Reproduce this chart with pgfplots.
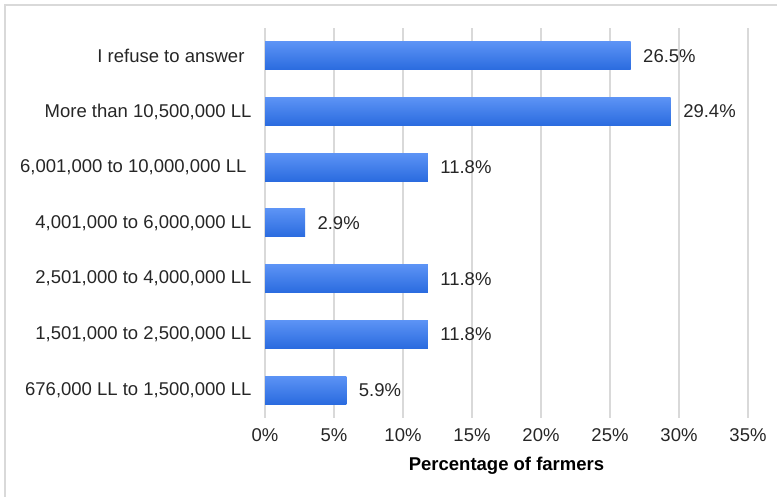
\documentclass[border=0pt]{standalone}
\usepackage{fontspec}
\setmainfont{Liberation Sans}
\usepackage{pgfplots}
\pgfplotsset{compat=1.18}

\definecolor{gridgray}{HTML}{D9D9D9}
\definecolor{bartop}{HTML}{5C93F5}
\definecolor{barbottom}{HTML}{2A6BDF}
\definecolor{txt}{HTML}{262626}

\newcommand{\chartfont}{\fontsize{18.5}{21}\selectfont}

\begin{document}
\begin{tikzpicture}[x=1pt,y=1pt]
  % canvas and outer frame
  \path[use as bounding box] (0,0) rectangle (777,497);
  \draw[gridgray, line width=1.5pt] (5,0) -- (5,492) -- (777,492);

  \begin{axis}[
    at={(265pt,79pt)}, anchor=south west,
    scale only axis,
    width=483pt, height=390pt,
    xbar, bar width=28pt, bar shift=0pt,
    xmin=0, xmax=35,
    ymin=-0.5, ymax=6.5,
    xtick={0,5,...,35},
    ytick={0,1,2,3,4,5,6},
    yticklabels={
      {676,000 LL to 1,500,000 LL},
      {1,501,000 to 2,500,000 LL},
      {2,501,000 to 4,000,000 LL},
      {4,001,000 to 6,000,000 LL},
      {6,001,000 to 10,000,000 LL\rule{5pt}{0pt}},
      {More than 10,500,000 LL},
      {I refuse to answer\rule{7pt}{0pt}}
    },
    xticklabel={\pgfmathprintnumber{\tick}\%},
    /pgf/number format/assume math mode=true,
    major tick length=0pt,
    axis line style={draw=none},
    xmajorgrids, grid style={gridgray, line width=1.5pt},
    tick label style={font=\chartfont, text=txt},
    yticklabel style={xshift=-10pt},
    xticklabel style={yshift=-7.5pt},
    xlabel={Percentage of farmers},
    xlabel style={font=\chartfont\bfseries, text=black,
      at={(axis description cs:0.5,0)}, anchor=center, yshift=-48pt},
    clip=false,
    point meta=x,
    nodes near coords={\pgfmathprintnumber[fixed,precision=1,fixed zerofill]{\pgfplotspointmeta}\%},
    nodes near coords style={font=\chartfont, text=txt, anchor=west, xshift=9pt},
    every axis plot/.append style={draw=none, top color=bartop, bottom color=barbottom},
  ]
    % one plot per bar so that every bar carries its own gradient
    \addplot coordinates {(5.9,0)};
    \addplot coordinates {(11.8,1)};
    \addplot coordinates {(11.8,2)};
    \addplot coordinates {(2.9,3)};
    \addplot coordinates {(11.8,4)};
    \addplot coordinates {(29.4,5)};
    \addplot coordinates {(26.5,6)};
  \end{axis}
\end{tikzpicture}
\end{document}
